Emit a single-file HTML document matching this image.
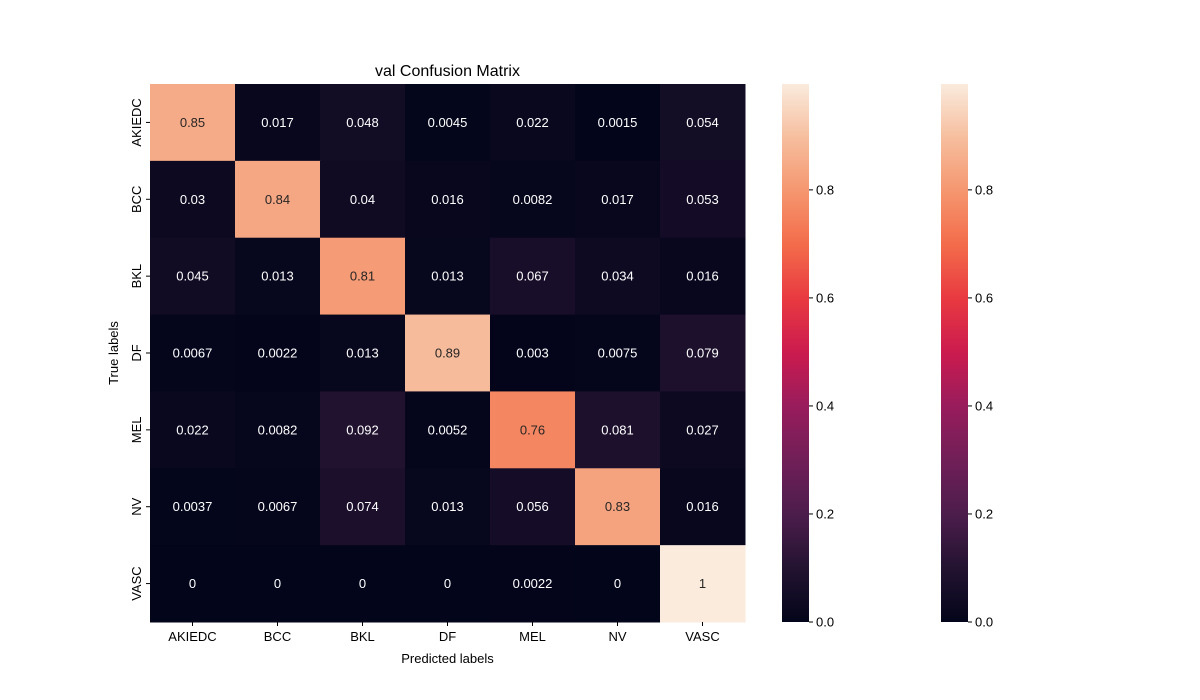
<!DOCTYPE html>
<html><head><meta charset="utf-8"><style>
body{margin:0;background:#fff;}
svg{display:block;font-family:"Liberation Sans","DejaVu Sans",sans-serif;}
</style></head><body>
<svg id="chart" width="1200" height="700" viewBox="0 0 1200 700" xmlns="http://www.w3.org/2000/svg">
<defs>
<linearGradient id="rocket" x1="0" y1="1" x2="0" y2="0"></linearGradient>
</defs>
<text x="447.5" y="76" font-size="16" text-anchor="middle" fill="#000">val Confusion Matrix</text>
<g id="cells"></g>
<g id="axes"></g>
<text x="447.5" y="663" font-size="13" text-anchor="middle">Predicted labels</text>
<text transform="translate(118,353) rotate(-90)" font-size="13" text-anchor="middle">True labels</text>
<g id="cbars"></g>
</svg>
<script>
const labels = ["AKIEDC","BCC","BKL","DF","MEL","NV","VASC"];
const row0 = [0.85,0.017,0.048,0.0045,0.022,0.0015,0.054];
const row1 = [0.03,0.84,0.04,0.016,0.0082,0.017,0.053];
const row2 = [0.045,0.013,0.81,0.013,0.067,0.034,0.016];
const row3 = [0.0067,0.0022,0.013,0.89,0.003,0.0075,0.079];
const row4 = [0.022,0.0082,0.092,0.0052,0.76,0.081,0.027];
const row5 = [0.0037,0.0067,0.074,0.013,0.056,0.83,0.016];
const row6 = [0,0,0,0,0.0022,0,1];
const rowsData = [row0,row1,row2,row3,row4,row5,row6];
const cbTicks = [0.0,0.2,0.4,0.6,0.8];
const vmin = 0, vmax = 0.996;

const NS="http://www.w3.org/2000/svg";
const stops=[[3,5,26],[35,19,49],[76,29,75],[112,31,87],[152,28,92],[203,27,79],[232,57,65],[243,107,74],[245,150,111],[246,190,158],[250,235,221]];
function cmap(v){let t=Math.max(0,Math.min(1,(v-vmin)/(vmax-vmin)))*10;let i=Math.min(9,Math.floor(t));let f=t-i;
 const c=stops[i].map((a,k)=>Math.round(a+(stops[i+1][k]-a)*f));return c;}
const X0=150,X1=745,Y0=84,Y1=622,n=labels.length;
const cw=(X1-X0)/n, ch=(Y1-Y0)/n;
const xPos=j=>X0+j*cw, yPos=i=>Y0+i*ch;
function el(t,a,p){const e=document.createElementNS(NS,t);for(const k in a)e.setAttribute(k,a[k]);p.appendChild(e);return e;}
const cells=document.getElementById('cells'), axes=document.getElementById('axes');
rowsData.forEach((row,i)=>row.forEach((v,j)=>{
 const c=cmap(v);
 const r=el('rect',{x:xPos(j),y:yPos(i),width:cw+0.5,height:ch+0.5,fill:`rgb(${c})`},cells);
 
 
 const lum=0.299*c[0]+0.587*c[1]+0.114*c[2];
 const t=el('text',{x:xPos(j)+cw/2,y:yPos(i)+ch/2+4.5,'font-size':13,'text-anchor':'middle',fill:lum>128?'#262626':'#fff'},cells);
 t.textContent=String(v);
 
 
}));
labels.forEach((l,j)=>{
 el('line',{x1:xPos(j)+cw/2,x2:xPos(j)+cw/2,y1:Y1,y2:Y1+4,stroke:'#000'},axes);
 const t=el('text',{x:xPos(j)+cw/2,y:Y1+19,'font-size':13,'text-anchor':'middle'},axes);t.textContent=l;
 
 
 const yc=yPos(j)+ch/2;
 el('line',{x1:X0-4,x2:X0,y1:yc,y2:yc,stroke:'#000'},axes);
 const u=el('text',{transform:`translate(${X0-9},${yc}) rotate(-90)`,'font-size':13,'text-anchor':'middle'},axes);u.textContent=l;
 
 
});
const g=document.getElementById('rocket');
stops.forEach((s,k)=>el('stop',{offset:(k/10*vmax/ (vmax)),'stop-color':`rgb(${s})`},g));
const cbg=document.getElementById('cbars');
[[782,809],[941,968]].forEach(([a,b],ci)=>{
 const r=el('rect',{x:a,y:Y0,width:b-a,height:Y1-Y0,fill:'url(#rocket)'},cbg);
 
 
 cbTicks.forEach(v=>{const y=Y1-(v-vmin)/(vmax-vmin)*(Y1-Y0);
  el('line',{x1:b,x2:b+4,y1:y,y2:y,stroke:'#000'},cbg);
  const t=el('text',{x:b+7,y:y+4.5,'font-size':13},cbg);t.textContent=v.toFixed(1);
  
  
 });
});
</script>
</body></html>
